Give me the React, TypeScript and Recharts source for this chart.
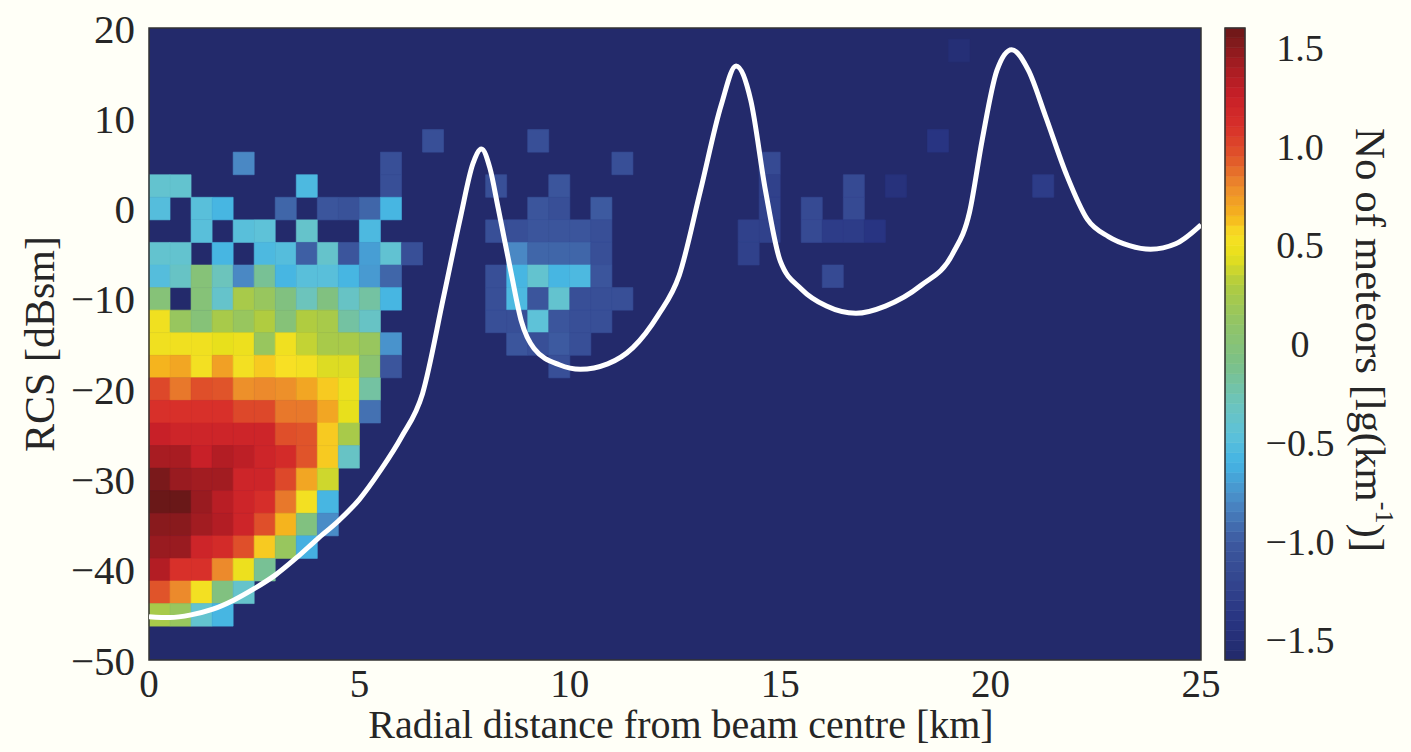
import React from 'react';
import { ComposedChart, Line, XAxis, YAxis, ReferenceArea } from 'recharts';

const FONT = '"Liberation Serif", "Times New Roman", serif';
const INK = '#262626';
const NAVY = '#232a6b';

// axis ticks
const xTicks = [0, 5, 10, 15, 20, 25];
const yTicks = [-50, -40, -30, -20, -10, 0, 10, 20];
const cbTicks = [-1.5, -1, -0.5, 0, 0.5, 1, 1.5];

// histogram bins: 0.5 km wide, 2.5 dB tall (centred on multiples of 2.5)
const BIN_KM = 0.5;
const BIN_DB = 2.5;

// main cloud near the beam centre, columns start at 0 km
const blobRowCentres = [5, 2.5, 0, -2.5, -5, -7.5, -10, -12.5, -15, -17.5, -20, -22.5, -25, -27.5, -30, -32.5, -35, -37.5, -40, -42.5, -45];
const N = null;
const blobValues: (number | null)[][] = [
  [N, N, N, N, -0.8, N, N, N, N, N, N, -1.1, N],
  [-0.4, -0.4, N, N, N, N, N, -0.55, N, N, N, -1.1, N],
  [-0.5, N, -0.48, -0.58, N, N, -0.95, N, -1.05, -1.08, -0.95, -0.58, N],
  [N, N, -0.48, N, -0.48, -0.45, N, -0.38, N, N, -0.55, N, N],
  [-0.4, -0.4, N, -0.58, N, -0.55, -0.5, -0.98, -0.38, -1.05, -0.7, -0.42, -1.1],
  [-0.5, -0.35, 0, -0.3, -0.8, -0.15, -0.58, -0.48, -0.48, -0.58, -0.72, -0.95, N],
  [0, N, 0, -0.38, 0.25, 0.15, -0.05, -0.3, -0.05, -0.35, -0.2, -0.58, N],
  [0.5, 0.15, 0, 0.25, 0.15, 0.3, 0, 0.3, 0.25, -0.2, -0.35, N, N],
  [0.5, 0.5, 0.5, 0.45, 0.48, 0.15, 0.5, 0.35, 0.25, 0.25, 0.15, -0.75, N],
  [0.65, 0.7, 0.52, 0.72, 0.52, 0.6, 0.55, 0.52, 0.42, 0.42, 0.05, -1.05, N],
  [1.0, 0.85, 0.97, 0.95, 0.78, 0.8, 0.78, 0.7, 0.6, 0.48, -0.2, N, N],
  [1.1, 1.1, 1.1, 1.1, 1.0, 1.0, 0.85, 0.85, 0.7, 0.45, -0.9, N, N],
  [1.25, 1.2, 1.2, 1.2, 1.2, 1.2, 0.97, 0.95, 0.6, 0.25, N, N, N],
  [1.4, 1.4, 1.25, 1.35, 1.3, 1.2, 1.15, 0.95, 0.6, -0.35, N, N, N],
  [1.55, 1.45, 1.42, 1.42, 1.2, 1.2, 1.0, 0.7, 0.38, N, N, N, N],
  [1.6, 1.6, 1.45, 1.32, 1.2, 1.12, 0.85, 0.52, -0.58, N, N, N, N],
  [1.5, 1.5, 1.42, 1.35, 1.2, 0.97, 0.65, -0.05, -0.78, N, N, N, N],
  [1.45, 1.45, 1.2, 1.15, 0.97, 0.6, 0.15, -0.62, N, N, N, N, N],
  [1.35, 1.1, 1.1, 0.8, 0.48, -0.15, N, N, N, N, N, N, N],
  [0.95, 0.8, 0.52, -0.05, -0.38, N, N, N, N, N, N, N, N],
  [0.25, 0.15, -0.4, -0.58, N, N, N, N, N, N, N, N, N],
];

// scattered bins further out: [bin start km, RCS bin centre dB, lg(count)]
const outerCells: [number, number, number][] = [
  [6.5, 7.5, -1.1], [9, 7.5, -1.1], [11, 5, -1.1],
  [8, 2.5, -1.1], [9.5, 2.5, -1.05],
  [9, 0, -1.05], [9.5, 0, -1.1], [10.5, 0, -1.0],
  [8, -2.5, -1.1], [8.5, -2.5, -1.1], [9, -2.5, -1.05], [9.5, -2.5, -1.05], [10, -2.5, -1.05], [10.5, -2.5, -1.1],
  [8.5, -5, -0.8], [9, -5, -0.95], [9.5, -5, -0.95], [10, -5, -0.95], [10.5, -5, -1.1],
  [8, -7.5, -1.1], [8.5, -7.5, -0.58], [9, -7.5, -0.4], [9.5, -7.5, -0.58], [10, -7.5, -0.55], [10.5, -7.5, -1.05],
  [8, -10, -1.1], [8.5, -10, -0.55], [9, -10, -1.05], [9.5, -10, -0.4], [10, -10, -1.1], [10.5, -10, -1.1], [11, -10, -1.1],
  [8, -12.5, -1.1], [8.5, -12.5, -1.1], [9, -12.5, -0.45], [9.5, -12.5, -1.05], [10, -12.5, -1.1], [10.5, -12.5, -1.1],
  [8.5, -15, -1.05], [9, -15, -1.1], [9.5, -15, -1.0], [10, -15, -1.1],
  [9.5, -17.5, -1.1],
  [19, 17.5, -1.5], [18.5, 7.5, -1.4],
  [14.5, 5, -1.15], [14.5, 2.5, -1.25], [14.5, 0, -1.25], [14.5, -2.5, -1.25],
  [14, -2.5, -1.25], [14, -5, -1.25],
  [15.5, 0, -1.15], [15.5, -2.5, -1.15],
  [16, -2.5, -1.3], [16, -7.5, -1.15],
  [16.5, 2.5, -1.15], [16.5, 0, -1.15], [16.5, -2.5, -1.3],
  [17, -2.5, -1.4], [17.5, 2.5, -1.45], [21, 2.5, -1.3],
];

// white detection-limit curve
const curveKm = [0, 0.5, 1, 1.5, 2, 2.5, 3, 3.5, 4, 4.5, 5, 5.5, 6, 6.5, 7, 7.4, 7.7, 7.9, 8.1, 8.3, 8.6, 8.85, 9.15, 9.75, 10.25, 10.9, 11.5, 12.1, 12.6, 13.1, 13.6, 13.95, 14.3, 14.65, 15, 15.5, 16.1, 16.8, 17.5, 18.35, 19.1, 19.5, 19.8, 20.15, 20.5, 20.9, 21.3, 21.8, 22.3, 22.8, 23.3, 23.8, 24.4, 25];
const curveRcs = [-45.2, -45.3, -45, -44.4, -43.4, -42.1, -40.6, -38.7, -36.6, -34.6, -32.2, -29, -25.3, -20.5, -9.8, -1, 5, 6.6, 4.5, 0, -7, -12.5, -15.5, -17.3, -17.8, -17.2, -15.4, -11.8, -7.4, 1.9, 11.5, 15.8, 12, 2, -5.8, -8.9, -10.8, -11.6, -10.8, -8.5, -5, -0.4, 7.6, 15.3, 17.6, 15.3, 10.3, 3.8, -1.2, -3.1, -4.1, -4.5, -3.9, -1.8];

// colour map (jet-like, darkened ends)
const cmapStops: [number, string][] = [
  [-1.6, '#222a6a'], [-1.4, '#283482'], [-1.2, '#33458e'], [-1.0, '#3d5aa0'],
  [-0.8, '#4a88c4'], [-0.6, '#44b4e4'], [-0.45, '#5ec2d8'], [-0.3, '#6cc4bc'],
  [-0.1, '#7cc088'], [0.1, '#90c468'], [0.3, '#b0cc40'], [0.45, '#e8e01c'],
  [0.55, '#f8e024'], [0.65, '#f5b41e'], [0.8, '#ec8a2c'], [0.95, '#e0542a'],
  [1.1, '#d8302a'], [1.25, '#c82028'], [1.4, '#a81c22'], [1.6, '#6a1818'],
];

const hex = (h: string) => [1, 3, 5].map(i => parseInt(h.slice(i, i + 2), 16));
const cmap = (v: number) => {
  if (v <= cmapStops[0][0]) return cmapStops[0][1];
  for (let i = 1; i < cmapStops.length; i++) {
    const [v1, c1] = cmapStops[i];
    if (v <= v1) {
      const [v0, c0] = cmapStops[i - 1];
      const t = (v - v0) / (v1 - v0);
      const a = hex(c0), b = hex(c1);
      const m = a.map((x, k) => Math.round(x + (b[k] - x) * t));
      return `rgb(${m[0]},${m[1]},${m[2]})`;
    }
  }
  return cmapStops[cmapStops.length - 1][1];
};

const cells: { km: number; db: number; v: number }[] = [];
blobValues.forEach((row, r) => {
  row.forEach((v, c) => {
    if (v !== null) cells.push({ km: c * BIN_KM, db: blobRowCentres[r], v });
  });
});
outerCells.forEach(([km, db, v]) => cells.push({ km, db, v }));

const lineData = curveKm.map((x, i) => ({ x, y: curveRcs[i] }));

const CB_MIN = -1.6;
const CB_MAX = 1.6;
const CB_STEP = (CB_MAX - CB_MIN) / 64;
const cbBands = Array.from({ length: 64 }, (_, i) => CB_MIN + i * CB_STEP);
// invisible anchor so the colour-bar axes get a domain
const cbAnchor = [{ x: 0, y: CB_MIN }, { x: 1, y: CB_MAX }];

const minus = (s: string) => s.replace('-', '\u2212');

const YTitle = (props: any) => {
  const vb = props.viewBox || {};
  const cx = 40;
  const cy = (vb.y ?? 28) + (vb.height ?? 632) / 2;
  return (
    <text x={cx} y={cy} transform={`rotate(-90 ${cx} ${cy})`} textAnchor="middle" dominantBaseline="central"
      fontFamily={FONT} fontSize={42} fill={INK}>RCS [dBsm]</text>
  );
};

const XTitle = (props: any) => {
  const vb = props.viewBox || {};
  const cx = (vb.x ?? 149) + (vb.width ?? 1052) / 2 + 6;
  return (
    <text x={cx} y={738} textAnchor="middle" fontFamily={FONT} fontSize={40} fill={INK}>
      Radial distance from beam centre [km]
    </text>
  );
};

const CbTitle = () => {
  const cx = 190;
  const cy = 340;
  return (
    <text x={cx} y={cy} transform={`rotate(90 ${cx} ${cy})`} textAnchor="middle" dominantBaseline="central"
      fontFamily={FONT} fontSize={43} fill={INK}>
      No of meteors [lg(km<tspan dy={-15} fontSize={26}>-1</tspan><tspan dy={15}>)]</tspan>
    </text>
  );
};

const CbTick = (props: any) => {
  const { x, y, payload } = props;
  const v = payload.value as number;
  const label = v === 0 ? '0' : minus(v.toFixed(1));
  return (
    <text x={x + 47} y={y} textAnchor="middle" dominantBaseline="central" fontFamily={FONT} fontSize={38} fill={INK}>
      {label}
    </text>
  );
};

export default function App() {
  return (
    <div style={{ position: 'absolute', left: 0, top: 0, width: 1411, height: 752, background: '#fffff7', overflow: 'hidden' }}>
      <div style={{ position: 'absolute', left: 0, top: 0 }}>
        <ComposedChart width={1230} height={752} data={lineData} margin={{ top: 28, right: 29, bottom: 12, left: 39 }}>
          <XAxis dataKey="x" type="number" domain={[0, 25]} ticks={xTicks} interval={0} allowDataOverflow
            axisLine={false} tickLine={false} tickSize={6} tickMargin={3} height={80}
            tick={{ fontFamily: FONT, fontSize: 39, fill: INK }} label={XTitle} />
          <YAxis type="number" domain={[-50, 20]} ticks={yTicks} interval={0} allowDataOverflow
            axisLine={false} tickLine={false} tickSize={6} tickMargin={8} width={110}
            tickFormatter={(v: number) => minus(String(v))}
            tick={{ fontFamily: FONT, fontSize: 41, fill: INK }} label={YTitle} />
          <ReferenceArea x1={0} x2={25} y1={-50} y2={20} fill={NAVY} fillOpacity={1} stroke="none" />
          {cells.map((c, i) => (
            <ReferenceArea key={i} x1={c.km} x2={c.km + BIN_KM} y1={c.db - BIN_DB / 2} y2={c.db + BIN_DB / 2}
              fill={cmap(c.v)} fillOpacity={1} stroke={cmap(c.v)} strokeWidth={0.6} />
          ))}
          <ReferenceArea x1={0} x2={25} y1={-50} y2={20} fill="none" stroke="#333" strokeWidth={1.5} />
          <Line dataKey="y" type="monotone" stroke="#ffffff" strokeWidth={5} dot={false} activeDot={false}
            isAnimationActive={false} />
        </ComposedChart>
      </div>
      <div style={{ position: 'absolute', left: 1180, top: 0 }}>
        <ComposedChart width={231} height={752} data={cbAnchor} margin={{ top: 28, right: 0, bottom: 92, left: 45 }}>
          <XAxis dataKey="x" type="number" domain={[0, 1]} hide />
          <YAxis orientation="right" type="number" domain={[CB_MIN, CB_MAX]} ticks={cbTicks} interval={0}
            allowDataOverflow axisLine={false} tickLine={false} tickSize={6} tickMargin={2} width={166}
            tick={CbTick} label={CbTitle} />
          {cbBands.map((lo, i) => (
            <ReferenceArea key={i} x1={0} x2={1} y1={lo} y2={lo + CB_STEP}
              fill={cmap(lo + CB_STEP / 2)} fillOpacity={1} stroke={cmap(lo + CB_STEP / 2)} strokeWidth={0.6} />
          ))}
          <ReferenceArea x1={0} x2={1} y1={CB_MIN} y2={CB_MAX} fill="none" stroke="#333" strokeWidth={1.5} />
          <Line dataKey="y" stroke="none" dot={false} activeDot={false} isAnimationActive={false} />
        </ComposedChart>
      </div>
    </div>
  );
}
